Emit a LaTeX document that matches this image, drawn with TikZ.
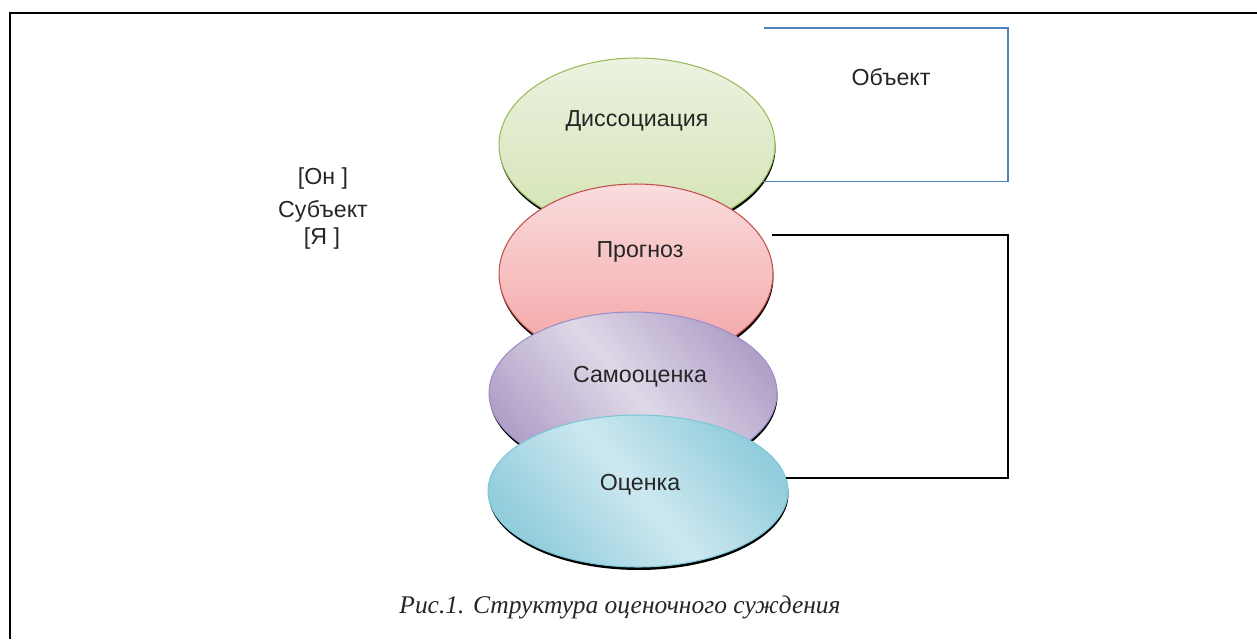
\documentclass[tikz,border=0pt]{standalone}
\usepackage{fontspec}
\setmainfont{Liberation Serif}
\setsansfont{Liberation Sans}
\usetikzlibrary{shapes.geometric,shadows}

\definecolor{dissline}{HTML}{9BBB59}
\definecolor{disstop}{HTML}{ECF2E0}
\definecolor{dissbot}{HTML}{D3E3B3}
\definecolor{progline}{HTML}{C0504D}
\definecolor{progtop}{HTML}{FADCDD}
\definecolor{progbot}{HTML}{F3A3A4}
\definecolor{samline}{HTML}{9D8EC8}
\definecolor{samdark}{HTML}{B1A1C8}
\definecolor{samlight}{HTML}{DFD8E8}
\definecolor{ocline}{HTML}{7CC6D8}
\definecolor{ocdark}{HTML}{92CDDC}
\definecolor{oclight}{HTML}{CDE8F0}
\definecolor{objline}{HTML}{4F81BD}
\definecolor{txt}{HTML}{262626}

\tikzset{
  blob/.style={ellipse, inner sep=0pt, line width=0.6pt,
    drop shadow={shadow xshift=0.01cm, shadow yshift=-0.06cm, fill=black, opacity=1}},
  lbl/.style={font=\sffamily\fontsize{13.2}{16}\selectfont, text=txt, inner sep=0pt},
  bracket/.style={line width=0.8pt}
}

\begin{document}
\begin{tikzpicture}[x=0.02cm, y=-0.02cm]
    \useasboundingbox (0, 0) rectangle (1257, 639);
    \draw[line width=1.1pt] (10, 639) -- (10, 13) -- (1257, 13);
    % stack of ellipses, lowest one drawn last
    \node[blob, draw=dissline, top color=disstop, bottom color=dissbot,
	minimum width=5.52cm, minimum height=3.48cm] (diss) at (637, 145) {};
    \node[blob, draw=progline, top color=progtop, bottom color=progbot,
	minimum width=5.48cm, minimum height=3.6cm] (prog) at (636, 274) {};
    \node[blob, draw=samline, left color=samdark, right color=samdark,
	middle color=samlight, shading angle=-50,
	minimum width=5.76cm, minimum height=3.24cm] (sam) at (633, 393) {};
    \node[blob, draw=ocline, left color=ocdark, right color=ocdark,
	middle color=oclight, shading angle=-50,
	minimum width=6cm, minimum height=3.04cm] (oc) at (638, 491) {};
    \node[lbl] (dissT) at (637, 121) {Диссоциация};
    \node[lbl] (progT) at (640, 252) {Прогноз};
    \node[lbl] (samT) at (640, 377) {Самооценка};
    \node[lbl] (ocT) at (640, 485) {Оценка};
    % brackets on the right
    \coordinate (objA) at (764, 28);
    \coordinate (objR) at (1008, 100);
    \coordinate (progA) at (772, 235);
    \coordinate (progR) at (1008, 350);
    \draw[line width=0.6pt, objline] (objA) -| (objR) |- (diss.-16);
    \draw[bracket] (progA) -| (progR) |- (oc.5);
    \node[lbl] (obj) at (891, 77) {Объект};
    % left labels
    \node[lbl] (on) at (323, 179) {[Он ]};
    \node[lbl] (subj) at (323, 211) {Субъект};
    \node[lbl] (ya) at (322, 238) {[Я ]};
    \node[font=\itshape\fontsize{14.5}{17}\selectfont, text=txt, inner sep=0pt]
	(cap) at (620, 607) {Рис.1. Структура оценочного суждения};
\end{tikzpicture}
\end{document}
